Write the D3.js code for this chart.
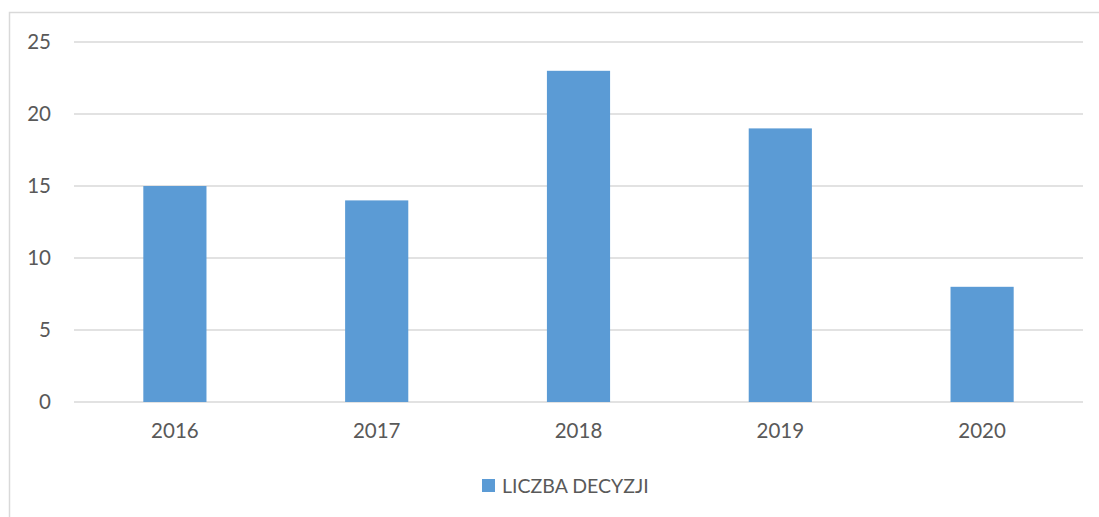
<!DOCTYPE html>
<html>
<head>
<meta charset="utf-8">
<script src="https://cdn.jsdelivr.net/npm/d3@7"></script>
<style>
  html, body { margin: 0; padding: 0; background: #fff; }
  svg { display: block; }
</style>
</head>
<body>
<svg id="chart" width="1099" height="517"></svg>
<script>
// Number of decisions per year
const years = ["2016", "2017", "2018", "2019", "2020"];
const decisions = [15, 14, 23, 19, 8];
const yTicks = [0, 5, 10, 15, 20, 25];
const seriesName = "LICZBA DECYZJI";

const W = 1099, H = 517;
const plot = { left: 74, right: 1083, top: 42, bottom: 402 };
const font = "Lato, 'Open Sans', sans-serif";
const textColor = "#595959";
const barColor = "#5B9BD5";

const svg = d3.select("#chart");

// chart frame
svg.append("rect")
  .attr("x", 9.5).attr("y", 12.5)
  .attr("width", W + 20).attr("height", H + 20)
  .attr("fill", "#fff")
  .attr("stroke", "#D9D9D9").attr("stroke-width", 1.5);

const x = d3.scaleBand().domain(years).range([plot.left, plot.right]).paddingInner(0.687).paddingOuter(0.3435);
const y = d3.scaleLinear().domain([0, 25]).range([plot.bottom, plot.top]);

// gridlines
svg.append("g")
  .selectAll("line")
  .data(yTicks)
  .join("line")
  .attr("x1", plot.left).attr("x2", plot.right)
  .attr("y1", d => y(d)).attr("y2", d => y(d))
  .attr("stroke", "#D9D9D9").attr("stroke-width", 1.3);

// bars
svg.append("g")
  .selectAll("rect")
  .data(years.map((yr, i) => ({ yr, v: decisions[i] })))
  .join("rect")
  .attr("x", d => x(d.yr))
  .attr("width", x.bandwidth())
  .attr("y", d => y(d.v))
  .attr("height", d => y(0) - y(d.v))
  .attr("fill", barColor);

// y axis labels
const yAxis = d3.axisLeft(y).tickValues(yTicks).tickSize(0).tickPadding(0).tickFormat(d3.format("d"));
svg.append("g")
  .attr("transform", `translate(51,0)`)
  .call(yAxis)
  .call(g => g.select(".domain").remove())
  .call(g => g.selectAll("text")
    .attr("font-family", font).attr("font-size", 20.5).attr("fill", textColor));

// x axis labels
const xAxis = d3.axisBottom(x).tickSize(0).tickPadding(0);
svg.append("g")
  .attr("transform", `translate(0,${plot.bottom + 21})`)
  .call(xAxis)
  .call(g => g.select(".domain").remove())
  .call(g => g.selectAll("text")
    .attr("font-family", font).attr("font-size", 20.5).attr("fill", textColor));

// legend
const legend = svg.append("g").attr("transform", "translate(482,479)");
legend.append("rect").attr("width", 13).attr("height", 13).attr("fill", barColor);
legend.append("text")
  .attr("x", 20).attr("y", 14)
  .attr("font-family", font).attr("font-size", 19.5).attr("fill", textColor)
  .text(seriesName);
</script>
</body>
</html>
